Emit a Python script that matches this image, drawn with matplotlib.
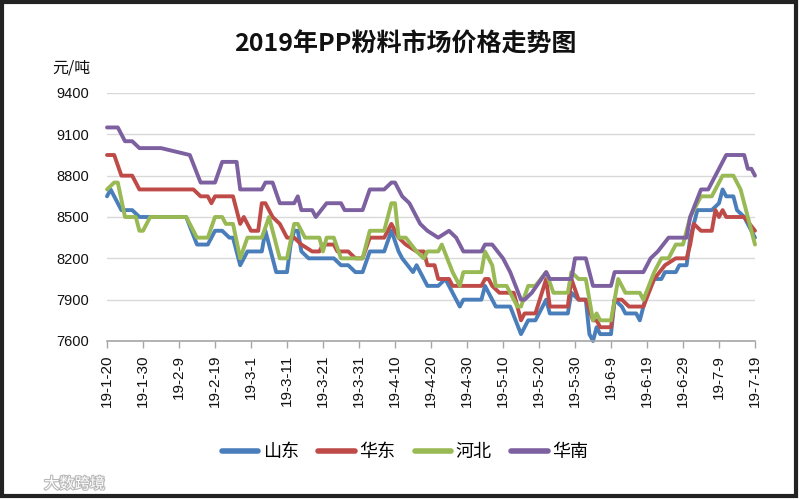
import matplotlib
matplotlib.use("Agg")
import matplotlib.pyplot as plt
import matplotlib.patheffects as pe
from matplotlib.patches import Rectangle
from datetime import datetime

YEAR = 2019
title = "2019年PP粉料市场价格走势图"
unit_label = "元/吨"
watermark = "大数跨境"
series_names = ["山东", "华东", "河北", "华南"]
series_colors = ["#4A7EBB", "#BE4B48", "#98B954", "#7D60A0"]
y_ticks = [7600, 7900, 8200, 8500, 8800, 9100, 9400]
x_tick_labels = ["19-1-20", "19-1-30", "19-2-9", "19-2-19", "19-3-1", "19-3-11",
                 "19-3-21", "19-3-31", "19-4-10", "19-4-20", "19-4-30", "19-5-10",
                 "19-5-20", "19-5-30", "19-6-9", "19-6-19", "19-6-29", "19-7-9",
                 "19-7-19"]

# (month-day, price in 元/吨) at each point where the price changes
shandong = [("01-20", 8650), ("01-21", 8700), ("01-24", 8550), ("01-27", 8550), ("01-29", 8500),
            ("02-11", 8500), ("02-14", 8300), ("02-17", 8300), ("02-19", 8400), ("02-21", 8400),
            ("02-23", 8350), ("02-24", 8350), ("02-26", 8150), ("02-28", 8250), ("03-04", 8250),
            ("03-05", 8400), ("03-07", 8200), ("03-08", 8100), ("03-11", 8100), ("03-12", 8300),
            ("03-13", 8400), ("03-14", 8400), ("03-15", 8250), ("03-17", 8200), ("03-24", 8200),
            ("03-26", 8150), ("03-28", 8150), ("03-30", 8100), ("04-01", 8100), ("04-03", 8250),
            ("04-07", 8250), ("04-09", 8400), ("04-11", 8250), ("04-12", 8200), ("04-15", 8100),
            ("04-16", 8150), ("04-19", 8000), ("04-22", 8000), ("04-24", 8050), ("04-26", 7950),
            ("04-28", 7850), ("04-29", 7900), ("05-04", 7900), ("05-05", 8000), ("05-06", 7950),
            ("05-08", 7850), ("05-12", 7850), ("05-15", 7650), ("05-17", 7750), ("05-19", 7750),
            ("05-22", 7900), ("05-23", 7800), ("05-28", 7800), ("05-29", 7950), ("05-31", 7900),
            ("06-02", 7900), ("06-03", 7650), ("06-04", 7600), ("06-05", 7700), ("06-06", 7650),
            ("06-09", 7650), ("06-10", 7900), ("06-12", 7850), ("06-13", 7800), ("06-16", 7800),
            ("06-17", 7750), ("06-19", 7950), ("06-21", 8050), ("06-23", 8050), ("06-24", 8100),
            ("06-27", 8100), ("06-28", 8150), ("06-30", 8150), ("07-01", 8350), ("07-03", 8550),
            ("07-07", 8550), ("07-09", 8600), ("07-10", 8700), ("07-11", 8650), ("07-13", 8650),
            ("07-14", 8550), ("07-16", 8500), ("07-19", 8350)]

huadong = [("01-20", 8950), ("01-22", 8950), ("01-24", 8800), ("01-27", 8800), ("01-29", 8700),
           ("02-13", 8700), ("02-15", 8650), ("02-17", 8650), ("02-18", 8600), ("02-19", 8650),
           ("02-24", 8650), ("02-26", 8450), ("02-27", 8500), ("03-01", 8400), ("03-03", 8400),
           ("03-04", 8600), ("03-05", 8600), ("03-07", 8500), ("03-09", 8450), ("03-11", 8350),
           ("03-13", 8350), ("03-15", 8300), ("03-18", 8250), ("03-20", 8250), ("03-21", 8300),
           ("03-24", 8300), ("03-25", 8250), ("03-28", 8250), ("03-30", 8200), ("04-01", 8200),
           ("04-03", 8350), ("04-07", 8350), ("04-09", 8450), ("04-11", 8350), ("04-13", 8300),
           ("04-16", 8250), ("04-18", 8250), ("04-19", 8150), ("04-21", 8150), ("04-22", 8050),
           ("04-25", 8050), ("04-26", 8000), ("05-04", 8000), ("05-05", 8050), ("05-06", 8050),
           ("05-07", 8000), ("05-09", 7950), ("05-13", 7950), ("05-15", 7750), ("05-16", 7800),
           ("05-19", 7800), ("05-22", 8050), ("05-23", 7850), ("05-28", 7850), ("05-29", 8050),
           ("05-31", 7900), ("06-02", 7900), ("06-04", 7750), ("06-05", 7750), ("06-06", 7700),
           ("06-09", 7700), ("06-10", 7900), ("06-12", 7900), ("06-14", 7850), ("06-18", 7850),
           ("06-21", 8050), ("06-24", 8150), ("06-27", 8200), ("06-30", 8200), ("07-01", 8300),
           ("07-02", 8450), ("07-04", 8400), ("07-07", 8400), ("07-08", 8550), ("07-09", 8500),
           ("07-10", 8550), ("07-11", 8500), ("07-16", 8500), ("07-19", 8400)]

hebei = [("01-20", 8700), ("01-22", 8750), ("01-23", 8750), ("01-25", 8500), ("01-28", 8500),
         ("01-29", 8400), ("01-30", 8400), ("02-01", 8500), ("02-11", 8500), ("02-14", 8350),
         ("02-17", 8350), ("02-19", 8500), ("02-21", 8500), ("02-22", 8450), ("02-24", 8450),
         ("02-26", 8200), ("02-28", 8350), ("03-04", 8350), ("03-06", 8500), ("03-09", 8200),
         ("03-11", 8200), ("03-13", 8450), ("03-14", 8450), ("03-16", 8350), ("03-20", 8350),
         ("03-21", 8250), ("03-22", 8350), ("03-24", 8350), ("03-26", 8200), ("04-01", 8200),
         ("04-03", 8400), ("04-07", 8400), ("04-09", 8600), ("04-10", 8600), ("04-11", 8350),
         ("04-13", 8350), ("04-16", 8250), ("04-18", 8200), ("04-19", 8250), ("04-22", 8250),
         ("04-23", 8300), ("04-26", 8100), ("04-28", 8000), ("04-29", 8100), ("05-04", 8100),
         ("05-05", 8250), ("05-07", 8150), ("05-08", 8000), ("05-11", 8000), ("05-14", 7850),
         ("05-15", 7850), ("05-17", 8000), ("05-19", 8000), ("05-22", 8100), ("05-24", 7950),
         ("05-28", 7950), ("05-29", 8100), ("05-31", 8050), ("06-02", 8050), ("06-04", 7750),
         ("06-05", 7800), ("06-06", 7750), ("06-09", 7750), ("06-11", 8050), ("06-13", 7950),
         ("06-17", 7950), ("06-18", 7900), ("06-21", 8100), ("06-23", 8200), ("06-25", 8200),
         ("06-27", 8300), ("06-29", 8300), ("07-01", 8500), ("07-04", 8650), ("07-07", 8650),
         ("07-09", 8750), ("07-10", 8800), ("07-13", 8800), ("07-15", 8700), ("07-17", 8500),
         ("07-19", 8300)]

huanan = [("01-20", 9150), ("01-23", 9150), ("01-25", 9050), ("01-27", 9050), ("01-29", 9000),
          ("02-04", 9000), ("02-12", 8950), ("02-15", 8750), ("02-19", 8750), ("02-21", 8900),
          ("02-25", 8900), ("02-26", 8700), ("03-04", 8700), ("03-05", 8750), ("03-07", 8750),
          ("03-09", 8600), ("03-13", 8600), ("03-14", 8650), ("03-15", 8550), ("03-18", 8550),
          ("03-19", 8500), ("03-22", 8600), ("03-26", 8600), ("03-27", 8550), ("04-01", 8550),
          ("04-03", 8700), ("04-07", 8700), ("04-09", 8750), ("04-10", 8750), ("04-11", 8700),
          ("04-12", 8650), ("04-14", 8600), ("04-16", 8500), ("04-17", 8450), ("04-19", 8400),
          ("04-22", 8350), ("04-25", 8400), ("04-27", 8350), ("04-29", 8250), ("05-04", 8250),
          ("05-05", 8300), ("05-07", 8300), ("05-10", 8200), ("05-12", 8100), ("05-15", 7900),
          ("05-16", 7900), ("05-18", 7950), ("05-22", 8100), ("05-23", 8050), ("05-29", 8050),
          ("05-30", 8200), ("06-02", 8200), ("06-04", 8000), ("06-09", 8000), ("06-10", 8100),
          ("06-18", 8100), ("06-20", 8200), ("06-22", 8250), ("06-25", 8350), ("06-30", 8350),
          ("07-01", 8500), ("07-04", 8700), ("07-06", 8700), ("07-08", 8800), ("07-11", 8950),
          ("07-16", 8950), ("07-17", 8850), ("07-18", 8850), ("07-19", 8800)]

series_data = [shandong, huadong, hebei, huanan]

CJK = ["Noto Sans CJK SC", "DejaVu Sans"]
LAT = ["Liberation Sans", "DejaVu Sans"]
plt.rcParams["font.family"] = CJK


def to_date(md):
    return datetime.strptime(f"{YEAR}-{md}", "%Y-%m-%d")


fig = plt.figure(figsize=(8, 5), dpi=100)
ax = fig.add_axes([107 / 800, 1 - 341 / 500, (755 - 107) / 800, (341 - 93) / 500])

for name, pts, col in zip(series_names, series_data, series_colors):
    xs = [to_date(d) for d, _ in pts]
    ys = [v for _, v in pts]
    ax.plot(xs, ys, color=col, lw=2.8, label=name, clip_on=False,
            solid_joinstyle="round", solid_capstyle="round")

tick_dates = [datetime.strptime("20" + lbl, "%Y-%m-%d") for lbl in x_tick_labels]
ax.set_xlim(tick_dates[0], tick_dates[-1])
ax.set_xticks(tick_dates)
ax.set_xticklabels(x_tick_labels, rotation=90, fontsize=11, family=LAT, color="#111111")
ax.set_ylim(y_ticks[0], y_ticks[-1])
ax.set_yticks(y_ticks)
ax.set_yticklabels([str(v) for v in y_ticks], fontsize=10.5, family=LAT, color="#111111")

ax.tick_params(axis="x", direction="out", length=5, width=1, color="#A6A6A6", pad=5)
ax.tick_params(axis="y", length=0, pad=13)
for s in ("top", "right", "left"):
    ax.spines[s].set_visible(False)
ax.spines["bottom"].set_color("#A6A6A6")
ax.spines["bottom"].set_linewidth(1.2)
ax.grid(axis="y", color="#D9D9D9", lw=1)
ax.set_axisbelow(True)

fig.text(405 / 800, 1 - 45 / 500, title, ha="center", va="center",
         fontsize=18, fontweight="bold", family=CJK, color="#111111")
fig.text(71 / 800, 1 - 68 / 500, unit_label, ha="center", va="center",
         fontsize=11.5, family=CJK, color="#111111")

leg = fig.legend(loc="center", bbox_to_anchor=(405 / 800, 1 - 452 / 500), ncol=4,
                 frameon=False, handlelength=2.0, handletextpad=0.25, columnspacing=1.1,
                 prop={"family": CJK, "size": 13})
for h in leg.get_lines():
    h.set_linewidth(4)

fig.text(44 / 800, 1 - 484 / 500, watermark, ha="left", va="center", fontsize=11,
         color="white", family=CJK,
         path_effects=[pe.withStroke(linewidth=1.6, foreground="#B8B8B8")])

fig.patches.append(Rectangle((2 / 800, 4 / 500), 794 / 800, 494 / 500,
                             transform=fig.transFigure, fill=False,
                             ec="#222222", lw=3))

fig.savefig("out.png", dpi=100)
